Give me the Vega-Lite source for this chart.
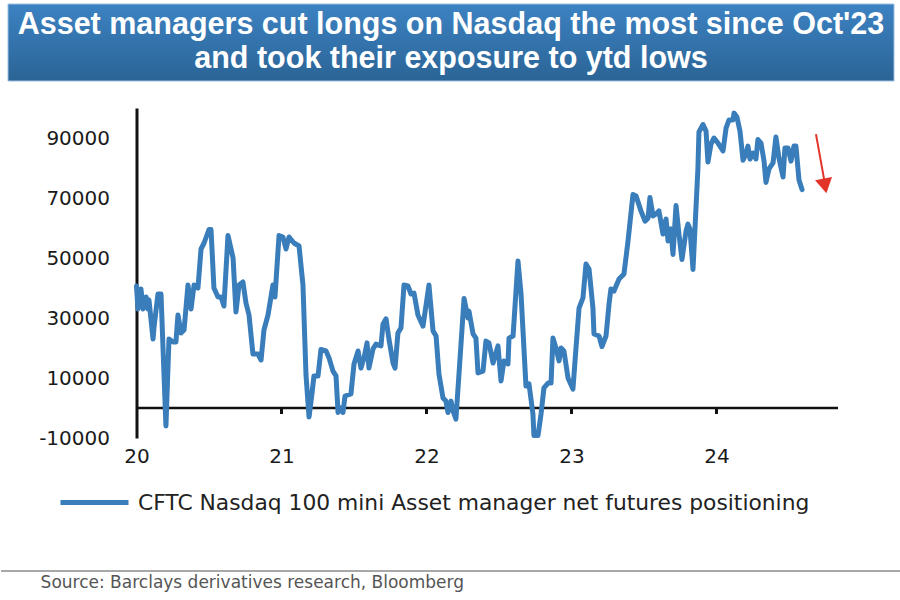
{
  "$schema": "https://vega.github.io/schema/vega-lite/v6.json",
  "background": "white",
  "padding": {"left": 0, "top": 3, "right": 0, "bottom": 0},
  "config": {"view": {"stroke": null}},
  "datasets": {
    "cftc": [
      {"year": 2020.000, "value": 40700}, {"year": 2020.010, "value": 33000}, {"year": 2020.031, "value": 39700},
      {"year": 2020.045, "value": 33000}, {"year": 2020.066, "value": 37000}, {"year": 2020.079, "value": 33000},
      {"year": 2020.086, "value": 36000}, {"year": 2020.114, "value": 23000}, {"year": 2020.121, "value": 27000},
      {"year": 2020.148, "value": 38000}, {"year": 2020.169, "value": 38000}, {"year": 2020.203, "value": -6000},
      {"year": 2020.224, "value": 23000}, {"year": 2020.252, "value": 22000}, {"year": 2020.272, "value": 22000},
      {"year": 2020.286, "value": 31000}, {"year": 2020.307, "value": 25000}, {"year": 2020.328, "value": 26000},
      {"year": 2020.355, "value": 41000}, {"year": 2020.376, "value": 33000}, {"year": 2020.397, "value": 41000},
      {"year": 2020.424, "value": 40000}, {"year": 2020.445, "value": 53000}, {"year": 2020.466, "value": 55000},
      {"year": 2020.500, "value": 59500}, {"year": 2020.514, "value": 59500}, {"year": 2020.534, "value": 40000},
      {"year": 2020.562, "value": 37000}, {"year": 2020.583, "value": 37000}, {"year": 2020.603, "value": 34000},
      {"year": 2020.631, "value": 57500}, {"year": 2020.666, "value": 50000}, {"year": 2020.686, "value": 32000},
      {"year": 2020.707, "value": 41000}, {"year": 2020.734, "value": 42000}, {"year": 2020.755, "value": 35000},
      {"year": 2020.776, "value": 31000}, {"year": 2020.803, "value": 18000}, {"year": 2020.838, "value": 18000},
      {"year": 2020.859, "value": 16000}, {"year": 2020.879, "value": 26000}, {"year": 2020.907, "value": 31000},
      {"year": 2020.941, "value": 41000}, {"year": 2020.955, "value": 37000}, {"year": 2020.983, "value": 57500},
      {"year": 2021.010, "value": 57000}, {"year": 2021.031, "value": 53000}, {"year": 2021.052, "value": 57000},
      {"year": 2021.086, "value": 55000}, {"year": 2021.121, "value": 54000}, {"year": 2021.148, "value": 41000},
      {"year": 2021.169, "value": 11000}, {"year": 2021.190, "value": -3000}, {"year": 2021.210, "value": 4700},
      {"year": 2021.224, "value": 10700}, {"year": 2021.252, "value": 10700}, {"year": 2021.272, "value": 19500},
      {"year": 2021.307, "value": 19000}, {"year": 2021.328, "value": 16700}, {"year": 2021.355, "value": 12300},
      {"year": 2021.376, "value": 10700}, {"year": 2021.390, "value": -1500}, {"year": 2021.410, "value": 0},
      {"year": 2021.424, "value": -1500}, {"year": 2021.438, "value": 4000}, {"year": 2021.479, "value": 4700},
      {"year": 2021.500, "value": 14700}, {"year": 2021.528, "value": 19000}, {"year": 2021.548, "value": 13300},
      {"year": 2021.569, "value": 16700}, {"year": 2021.590, "value": 21700}, {"year": 2021.603, "value": 13300},
      {"year": 2021.631, "value": 19700}, {"year": 2021.652, "value": 21300}, {"year": 2021.686, "value": 20700},
      {"year": 2021.700, "value": 28000}, {"year": 2021.721, "value": 29700}, {"year": 2021.741, "value": 23000},
      {"year": 2021.769, "value": 15000}, {"year": 2021.783, "value": 13300}, {"year": 2021.803, "value": 25000},
      {"year": 2021.824, "value": 26700}, {"year": 2021.845, "value": 41000}, {"year": 2021.872, "value": 40700},
      {"year": 2021.893, "value": 38000}, {"year": 2021.914, "value": 38300}, {"year": 2021.941, "value": 31000},
      {"year": 2021.976, "value": 27300}, {"year": 2022.017, "value": 41000}, {"year": 2022.045, "value": 25700},
      {"year": 2022.066, "value": 24000}, {"year": 2022.086, "value": 11300}, {"year": 2022.114, "value": 3300},
      {"year": 2022.134, "value": 2300}, {"year": 2022.148, "value": -1500}, {"year": 2022.169, "value": 2300},
      {"year": 2022.183, "value": -1000}, {"year": 2022.203, "value": -3700}, {"year": 2022.224, "value": 11300},
      {"year": 2022.259, "value": 36500}, {"year": 2022.286, "value": 30000}, {"year": 2022.293, "value": 32300},
      {"year": 2022.321, "value": 24700}, {"year": 2022.341, "value": 23300}, {"year": 2022.355, "value": 11700},
      {"year": 2022.390, "value": 12300}, {"year": 2022.410, "value": 22300}, {"year": 2022.431, "value": 21700},
      {"year": 2022.459, "value": 15000}, {"year": 2022.493, "value": 20700}, {"year": 2022.514, "value": 9000},
      {"year": 2022.534, "value": 15700}, {"year": 2022.562, "value": 14700}, {"year": 2022.569, "value": 23300},
      {"year": 2022.597, "value": 24000}, {"year": 2022.631, "value": 49000}, {"year": 2022.652, "value": 38000},
      {"year": 2022.686, "value": 7300}, {"year": 2022.707, "value": 8000}, {"year": 2022.734, "value": -2000},
      {"year": 2022.741, "value": -9200}, {"year": 2022.769, "value": -9200}, {"year": 2022.790, "value": -2000},
      {"year": 2022.810, "value": 6700}, {"year": 2022.838, "value": 8300}, {"year": 2022.859, "value": 8300},
      {"year": 2022.872, "value": 23300}, {"year": 2022.893, "value": 20000}, {"year": 2022.914, "value": 15700},
      {"year": 2022.928, "value": 20000}, {"year": 2022.948, "value": 19000}, {"year": 2022.976, "value": 10000},
      {"year": 2023.010, "value": 6300}, {"year": 2023.031, "value": 20000}, {"year": 2023.052, "value": 33300},
      {"year": 2023.079, "value": 36700}, {"year": 2023.100, "value": 48000}, {"year": 2023.121, "value": 46300},
      {"year": 2023.148, "value": 33300}, {"year": 2023.155, "value": 24700}, {"year": 2023.190, "value": 24000},
      {"year": 2023.210, "value": 20500}, {"year": 2023.238, "value": 24000}, {"year": 2023.259, "value": 34700},
      {"year": 2023.272, "value": 39700}, {"year": 2023.293, "value": 39000}, {"year": 2023.328, "value": 43000},
      {"year": 2023.362, "value": 44700}, {"year": 2023.390, "value": 55700}, {"year": 2023.424, "value": 71200},
      {"year": 2023.445, "value": 70700}, {"year": 2023.479, "value": 65700}, {"year": 2023.507, "value": 62300},
      {"year": 2023.528, "value": 63300}, {"year": 2023.541, "value": 70200}, {"year": 2023.562, "value": 64000},
      {"year": 2023.583, "value": 64700}, {"year": 2023.603, "value": 65700}, {"year": 2023.631, "value": 58000},
      {"year": 2023.652, "value": 63000}, {"year": 2023.666, "value": 55700}, {"year": 2023.686, "value": 59700},
      {"year": 2023.700, "value": 51200}, {"year": 2023.721, "value": 67500}, {"year": 2023.741, "value": 58000},
      {"year": 2023.762, "value": 49500}, {"year": 2023.790, "value": 59000}, {"year": 2023.803, "value": 61300},
      {"year": 2023.817, "value": 59700}, {"year": 2023.838, "value": 46200}, {"year": 2023.872, "value": 80000},
      {"year": 2023.879, "value": 92000}, {"year": 2023.907, "value": 94500}, {"year": 2023.928, "value": 92300},
      {"year": 2023.941, "value": 82000}, {"year": 2023.962, "value": 88000}, {"year": 2023.983, "value": 90000},
      {"year": 2024.010, "value": 88300}, {"year": 2024.045, "value": 85700}, {"year": 2024.066, "value": 93300},
      {"year": 2024.086, "value": 96000}, {"year": 2024.114, "value": 96000}, {"year": 2024.121, "value": 98300},
      {"year": 2024.141, "value": 97000}, {"year": 2024.162, "value": 92300}, {"year": 2024.183, "value": 82600},
      {"year": 2024.203, "value": 84700}, {"year": 2024.217, "value": 87300}, {"year": 2024.231, "value": 83000},
      {"year": 2024.252, "value": 85000}, {"year": 2024.272, "value": 83000}, {"year": 2024.286, "value": 89500},
      {"year": 2024.307, "value": 88300}, {"year": 2024.328, "value": 82300}, {"year": 2024.341, "value": 75200},
      {"year": 2024.362, "value": 79700}, {"year": 2024.390, "value": 81700}, {"year": 2024.410, "value": 90300},
      {"year": 2024.431, "value": 83300}, {"year": 2024.459, "value": 77000}, {"year": 2024.472, "value": 86700},
      {"year": 2024.493, "value": 86700}, {"year": 2024.514, "value": 82300}, {"year": 2024.534, "value": 87300},
      {"year": 2024.548, "value": 87300}, {"year": 2024.569, "value": 76000}, {"year": 2024.590, "value": 72800}
    ],
    "yearTicks": [{"year": 2021}, {"year": 2022}, {"year": 2023}, {"year": 2024}],
    "arrow": [{"x": 2024.686, "y": 91300, "x2": 2024.742, "y2": 76300, "hx": 2024.748, "hy": 74000}],
    "one": [{}]
  },
  "vconcat": [
    {
      "width": 886,
      "height": 77,
      "data": {"name": "one"},
      "layer": [
        {
          "mark": {
            "type": "rect",
            "fill": {"gradient": "linear", "x1": 0, "y1": 0, "x2": 0, "y2": 1,
              "stops": [{"offset": 0, "color": "#3c82c2"}, {"offset": 1, "color": "#2b6496"}]},
            "stroke": "#9cc0e0",
            "strokeWidth": 1
          },
          "encoding": {
            "x": {"datum": 0, "type": "quantitative", "scale": {"domain": [0, 1], "nice": false}, "axis": null},
            "x2": {"datum": 1},
            "y": {"datum": 0, "type": "quantitative", "scale": {"domain": [0, 1], "nice": false}, "axis": null},
            "y2": {"datum": 1}
          }
        },
        {
          "mark": {
            "type": "text",
            "font": "Liberation Sans",
            "fontWeight": "bold",
            "fontSize": 30.5,
            "lineHeight": 33.5,
            "color": "white",
            "align": "center",
            "baseline": "middle"
          },
          "encoding": {
            "text": {"value": ["Asset managers cut longs on Nasdaq the most since Oct'23", "and took their exposure to ytd lows"]},
            "x": {"datum": 0.5, "type": "quantitative"},
            "y": {"datum": 0.727, "type": "quantitative"}
          }
        }
      ]
    },
    {
      "width": 629,
      "height": 330,
      "layer": [
        {
          "data": {"name": "one"},
          "mark": {"type": "rule", "color": "#111111", "strokeWidth": 2.5},
          "encoding": {
            "x": {"datum": 2020, "type": "quantitative"},
            "x2": {"datum": 2024.838},
            "y": {"datum": 0, "type": "quantitative"}
          }
        },
        {
          "data": {"name": "yearTicks"},
          "mark": {"type": "rule", "color": "#111111", "strokeWidth": 3},
          "encoding": {
            "x": {"field": "year", "type": "quantitative"},
            "y": {"datum": 0, "type": "quantitative"},
            "y2": {"datum": -2000}
          }
        },
        {
          "data": {"name": "cftc"},
          "mark": {"type": "line", "strokeWidth": 5, "strokeJoin": "round", "strokeCap": "round"},
          "encoding": {
            "x": {
              "field": "year",
              "type": "quantitative",
              "scale": {"domain": [2020, 2024.838], "range": [0, 701.5], "nice": false, "zero": false},
              "axis": {
                "values": [2020, 2021, 2022, 2023, 2024],
                "labelExpr": "slice(toString(datum.value), 2)",
                "title": null,
                "domain": false,
                "ticks": false,
                "grid": false,
                "labelFont": "DejaVu Sans",
                "labelFontSize": 20,
                "labelColor": "#1a1a1a",
                "labelPadding": 8,
                "labelFlush": false
              }
            },
            "y": {
              "field": "value",
              "type": "quantitative",
              "scale": {"domain": [-10000, 100000], "nice": false, "zero": false},
              "axis": {
                "values": [-10000, 10000, 30000, 50000, 70000, 90000],
                "labelExpr": "datum.value < 0 ? '-' + toString(abs(datum.value)) : toString(datum.value)",
                "title": null,
                "grid": false,
                "ticks": false,
                "domainColor": "#111111",
                "domainWidth": 3,
                "labelFont": "DejaVu Sans",
                "labelFontSize": 20,
                "labelColor": "#1a1a1a",
                "labelPadding": 27
              }
            },
            "color": {
              "datum": "CFTC Nasdaq 100 mini Asset manager net futures positioning",
              "scale": {"range": ["#3a7dbb"]},
              "legend": {
                "title": null,
                "orient": "none",
                "legendX": 57,
                "legendY": 462,
                "padding": 0,
                "symbolType": "stroke",
                "symbolSize": 4624,
                "symbolStrokeWidth": 5,
                "labelFont": "DejaVu Sans",
                "labelFontSize": 21.8,
                "labelColor": "#222222",
                "labelOffset": 7,
                "labelLimit": 900
              }
            }
          }
        },
        {
          "data": {"name": "arrow"},
          "mark": {"type": "rule", "color": "#e3342a", "strokeWidth": 2},
          "encoding": {
            "x": {"field": "x", "type": "quantitative"},
            "y": {"field": "y", "type": "quantitative"},
            "x2": {"field": "x2"},
            "y2": {"field": "y2"}
          }
        },
        {
          "data": {"name": "arrow"},
          "mark": {"type": "point", "shape": "triangle-down", "filled": true, "color": "#e3342a", "size": 300, "opacity": 1, "angle": -11},
          "encoding": {
            "x": {"field": "hx", "type": "quantitative"},
            "y": {"field": "hy", "type": "quantitative"}
          }
        }
      ]
    },
    {
      "width": 900,
      "height": 130,
      "data": {"name": "one"},
      "layer": [
        {
          "mark": {"type": "rule", "color": "#a8a8a8", "strokeWidth": 2},
          "encoding": {
            "y": {"datum": 0.1846, "type": "quantitative", "scale": {"domain": [0, 1], "nice": false}, "axis": null}
          }
        },
        {
          "mark": {"type": "text", "text": "Source: Barclays derivatives research, Bloomberg", "align": "left", "baseline": "middle", "font": "DejaVu Sans", "fontSize": 17, "color": "#555555"},
          "encoding": {
            "x": {"datum": 0.044, "type": "quantitative", "scale": {"domain": [0, 1], "nice": false}, "axis": null},
            "y": {"datum": 0.0923, "type": "quantitative"}
          }
        }
      ]
    }
  ],
  "spacing": 27,
  "center": true,
  "bounds": "flush"
}
